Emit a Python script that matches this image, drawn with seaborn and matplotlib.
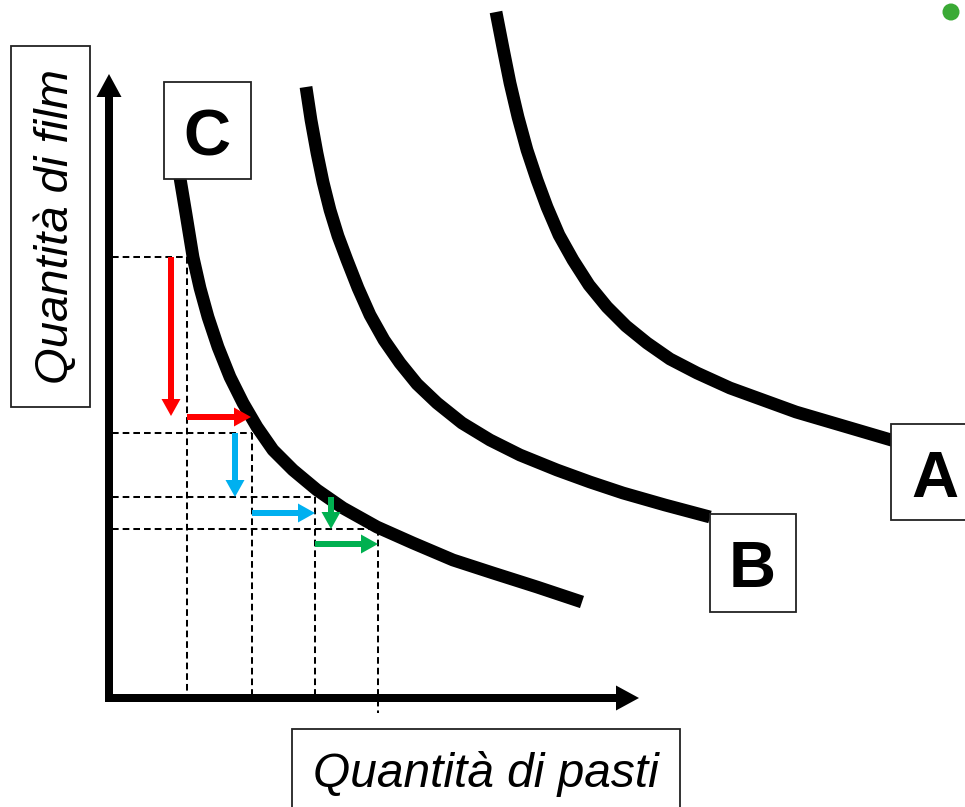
import numpy as np
import pandas as pd
import matplotlib
matplotlib.use("Agg")
import matplotlib.pyplot as plt
from matplotlib.patches import Rectangle
import seaborn as sns

# ---------------- data (pixel space) ----------------
curve_names = ["A", "B", "C"]
curve_A_x = [496, 503, 510, 518, 527, 537, 547, 559, 573, 589, 607, 626, 647, 670, 697,
             730, 763, 796, 830, 864, 898]
curve_A_y = [12, 48, 83, 117, 150, 180, 207, 235, 260, 285, 307, 326, 343, 359, 373,
             388, 400, 412, 422, 432, 442]
curve_B_x = [306, 311, 317, 323, 330, 338, 347, 358, 370, 384, 400, 417, 437, 462, 490,
             520, 557, 590, 623, 665, 710]
curve_B_y = [87, 120, 153, 182, 210, 236, 260, 288, 315, 340, 363, 384, 403, 423, 440,
             455, 470, 482, 493, 505, 517]
curve_C_x = [179, 186, 193, 200, 208, 218, 230, 243, 257, 273, 293, 317, 343, 377, 413,
             453, 493, 537, 582]
curve_C_y = [172, 214, 257, 288, 317, 347, 377, 403, 427, 450, 470, 490, 508, 527, 543,
             560, 573, 587, 602]

# consumption bundles on curve C (guide lines)
bundle_x = [187, 252, 315, 378]
bundle_y = [257, 433, 497, 529]
guide_bottom = [698, 698, 698, 713]

# movement arrows (down = fewer films, right = more meals)
arrow_colors = ["#FF0000", "#00B0F0", "#00B050"]
down_x = [171, 235, 331]
down_from = [257, 433, 497]
down_to = [416, 497, 529]
right_y = [417, 513, 544]
right_from = [187, 252, 315]
right_to = [251, 315, 378]

x_label = "Quantità di pasti"
y_label = "Quantità di film"

# ---------------- figure ----------------
sns.set_theme(style="white")
plt.rcParams["font.family"] = ["Liberation Sans", "DejaVu Sans"]

W, H = 965, 807
fig = plt.figure(figsize=(W / 100, H / 100), dpi=100)
ax = fig.add_axes([0, 0, 1, 1])


def frame():
    ax.set_xlim(0, W)
    ax.set_ylim(H, 0)
    ax.axis("off")


frame()

# axes arrows
origin_x, origin_y = 109, 698
ax.arrow(origin_x, origin_y + 4, 0, 74 - (origin_y + 4), width=8, head_width=25,
         head_length=23, length_includes_head=True, color="black", lw=0, zorder=5)
ax.arrow(origin_x - 4, origin_y, 639 - (origin_x - 4), 0, width=8, head_width=25,
         head_length=23, length_includes_head=True, color="black", lw=0, zorder=5)

# dashed guide lines
dash = (0, (3.3, 2.0))
ax.hlines(bundle_y, 112, bundle_x, colors="black", lw=1.45, linestyles=[dash], zorder=2)
ax.vlines(bundle_x, bundle_y, guide_bottom, colors="black", lw=1.45, linestyles=[dash], zorder=2)

# indifference curves
frames = [
    pd.DataFrame({"x": curve_A_x, "y": curve_A_y, "curve": "A"}),
    pd.DataFrame({"x": curve_B_x, "y": curve_B_y, "curve": "B"}),
    pd.DataFrame({"x": curve_C_x, "y": curve_C_y, "curve": "C"}),
]
df = pd.concat(frames, ignore_index=True)
sns.lineplot(data=df, x="x", y="y", units="curve", estimator=None, sort=False,
             color="black", linewidth=9.2, ax=ax, legend=False,
             solid_capstyle="butt", solid_joinstyle="round", zorder=3)
frame()

# coloured arrows
for c, x, y0, y1 in zip(arrow_colors, down_x, down_from, down_to):
    ax.arrow(x, y0, 0, y1 - y0, width=6, head_width=19, head_length=17,
             length_includes_head=True, color=c, lw=0, zorder=4)
for c, y, x0, x1 in zip(arrow_colors, right_y, right_from, right_to):
    ax.arrow(x0, y, x1 - x0, 0, width=6, head_width=19, head_length=17,
             length_includes_head=True, color=c, lw=0, zorder=4)

# label boxes
box_kw = dict(facecolor="white", edgecolor="#222222", lw=1.3, zorder=6)
ax.add_patch(Rectangle((11, 46), 79, 361, **box_kw))
ax.add_patch(Rectangle((292, 729), 388, 110, **box_kw))
ax.add_patch(Rectangle((164, 82), 87, 97, **box_kw))
ax.add_patch(Rectangle((710, 514), 86, 98, **box_kw))
ax.add_patch(Rectangle((891, 424), 90, 96, **box_kw))

ax.text(68, 226, y_label, rotation=90, rotation_mode="anchor", ha="center",
        va="baseline", fontsize=34, style="italic", color="black", zorder=7)
ax.text(486, 787, x_label, ha="center", va="baseline", fontsize=34.5,
        style="italic", color="black", zorder=7)

letter_pos = {"A": (935, 497), "B": (752, 587), "C": (207, 156)}
for name in curve_names:
    lx, ly = letter_pos[name]
    ax.text(lx, ly, name, ha="center", va="baseline", fontsize=47,
            fontweight="bold", color="black", zorder=7)

# small green dot in the corner
sns.scatterplot(x=[951], y=[12], s=150, color="#3AAA35", edgecolor="none",
                ax=ax, legend=False, zorder=8)
frame()

fig.savefig("out.png", dpi=100)
